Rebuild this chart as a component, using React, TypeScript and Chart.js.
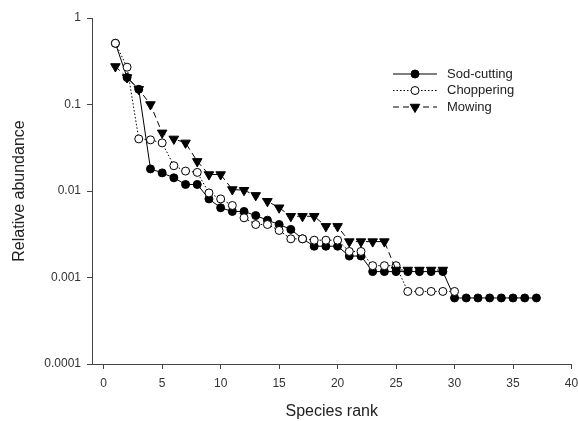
import React, { useEffect, useRef } from 'react';
import { Chart, registerables } from 'chart.js';
import { drawPoint } from 'chart.js/helpers';

Chart.register(...registerables);

const sodRanks = [1, 2, 3, 4, 5, 6, 7, 8, 9, 10, 11, 12, 13, 14, 15, 16, 17, 18, 19, 20, 21, 22, 23, 24, 25, 26, 27, 28, 29, 30, 31, 32, 33, 34, 35, 36, 37];
const sodValues = [0.51, 0.205, 0.15, 0.018, 0.0162, 0.0142, 0.0119, 0.0119, 0.0081, 0.0064, 0.0058, 0.0058, 0.0052, 0.0046, 0.0041, 0.0036, 0.0028, 0.0023, 0.0023, 0.0023, 0.00177, 0.00177, 0.00117, 0.00117, 0.00117, 0.00117, 0.00117, 0.00117, 0.00117, 0.00058, 0.00058, 0.00058, 0.00058, 0.00058, 0.00058, 0.00058, 0.00058];

const chopRanks = [1, 2, 3, 4, 5, 6, 7, 8, 9, 10, 11, 12, 13, 14, 15, 16, 17, 18, 19, 20, 21, 22, 23, 24, 25, 26, 27, 28, 29, 30];
const chopValues = [0.51, 0.27, 0.04, 0.039, 0.036, 0.0196, 0.017, 0.0164, 0.0095, 0.0081, 0.0068, 0.0049, 0.0041, 0.0041, 0.0035, 0.0028, 0.0028, 0.0027, 0.0027, 0.0027, 0.002, 0.002, 0.00137, 0.00137, 0.00137, 0.00069, 0.00069, 0.00069, 0.00069, 0.00069];

const mowRanks = [1, 2, 3, 4, 5, 6, 7, 8, 9, 10, 11, 12, 13, 14, 15, 16, 17, 18, 19, 20, 21, 22, 23, 24, 25, 26, 27, 28, 29];
const mowValues = [0.275, 0.205, 0.15, 0.1, 0.047, 0.04, 0.036, 0.022, 0.0155, 0.0155, 0.0104, 0.0102, 0.0089, 0.0076, 0.0064, 0.0051, 0.0051, 0.0051, 0.0039, 0.0039, 0.0026, 0.0026, 0.0026, 0.0026, 0.00122, 0.00122, 0.00122, 0.00122, 0.00122];

const xTicks = [0, 5, 10, 15, 20, 25, 30, 35, 40];
const yTicks = [0.0001, 0.001, 0.01, 0.1, 1];
const yTickLabels = ['0.0001', '0.001', '0.01', '0.1', '1'];

const seriesNames = ['Sod-cutting', 'Choppering', 'Mowing'];

const FONT = "'Liberation Sans', Arial, sans-serif";

const toPoints = (xs: number[], ys: number[]) => xs.map((x, i) => ({ x, y: ys[i] }));

const legendPlugin = {
  id: 'customLegend',
  afterDraw(chart: any) {
    const ctx = chart.ctx;
    const x0 = 393;
    const x1 = 437;
    const xm = 415;
    const tx = 447;
    const rows = [74, 90.5, 107];
    ctx.save();
    chart.data.datasets.forEach((ds: any, i: number) => {
      const y = rows[i];
      ctx.beginPath();
      ctx.setLineDash(ds.borderDash || []);
      ctx.lineWidth = ds.borderWidth;
      ctx.strokeStyle = ds.borderColor;
      ctx.moveTo(x0, y);
      ctx.lineTo(x1, y);
      ctx.stroke();
      ctx.setLineDash([]);
      ctx.fillStyle = ds.pointBackgroundColor;
      ctx.strokeStyle = ds.pointBorderColor;
      ctx.lineWidth = ds.pointBorderWidth;
      drawPoint(ctx, {
        pointStyle: ds.pointStyle,
        rotation: ds.pointRotation || 0,
        radius: ds.pointRadius,
        borderWidth: ds.pointBorderWidth,
      }, xm, y);
      ctx.fillStyle = '#222';
      ctx.font = `13px ${FONT}`;
      ctx.textAlign = 'left';
      ctx.textBaseline = 'middle';
      ctx.fillText(ds.label, tx, y);
    });
    ctx.restore();
  },
};

export default function App() {
  const ref = useRef<HTMLCanvasElement | null>(null);

  useEffect(() => {
    if (!ref.current) return;
    const chart = new Chart(ref.current, {
      type: 'line',
      data: {
        datasets: [
          {
            label: seriesNames[0],
            data: toPoints(sodRanks, sodValues),
            borderColor: '#000',
            borderWidth: 1,
            pointStyle: 'circle',
            pointRadius: 4,
            pointBackgroundColor: '#000',
            pointBorderColor: '#000',
            pointBorderWidth: 1,
            order: 3,
          } as any,
          {
            label: seriesNames[1],
            data: toPoints(chopRanks, chopValues),
            borderColor: '#000',
            borderWidth: 1,
            borderDash: [1.5, 2],
            pointStyle: 'circle',
            pointRadius: 4,
            pointBackgroundColor: '#fff',
            pointBorderColor: '#000',
            pointBorderWidth: 1,
            order: 2,
          },
          {
            label: seriesNames[2],
            data: toPoints(mowRanks, mowValues),
            borderColor: '#000',
            borderWidth: 1,
            borderDash: [6, 4],
            pointStyle: 'triangle',
            pointRotation: 180,
            pointRadius: 5.5,
            pointBackgroundColor: '#000',
            pointBorderColor: '#000',
            pointBorderWidth: 1,
            order: 1,
          },
        ],
      },
      options: {
        animation: false,
        responsive: false,
        layout: { padding: { top: 18, right: 4, left: 0, bottom: 0 } },
        plugins: {
          legend: { display: false },
          tooltip: { enabled: false },
        },
        scales: {
          x: {
            type: 'linear',
            min: -1,
            max: 40,
            afterBuildTicks: (s: any) => {
              s.ticks = xTicks.map((v) => ({ value: v }));
            },
            afterFit: (s: any) => {
              s.height = 57;
              s.paddingRight = 0;
              s.paddingLeft = 0;
            },
            grid: { drawOnChartArea: false, drawTicks: true, tickLength: 5, color: '#444' },
            border: { display: true, color: '#444', width: 1 },
            ticks: {
              font: { family: FONT, size: 12 },
              color: '#333',
              padding: 7,
              maxRotation: 0,
              autoSkip: false,
            },
            title: {
              display: true,
              text: 'Species rank',
              font: { family: FONT, size: 16 },
              color: '#222',
              padding: { top: 0, bottom: 0 },
            },
          },
          y: {
            type: 'logarithmic',
            min: 0.0001,
            max: 1,
            afterBuildTicks: (s: any) => {
              s.ticks = yTicks.map((v) => ({ value: v }));
            },
            afterFit: (s: any) => {
              s.width = 92;
              s.paddingTop = 0;
              s.paddingBottom = 0;
            },
            grid: { drawOnChartArea: false, drawTicks: true, tickLength: 5, color: '#444' },
            border: { display: true, color: '#444', width: 1 },
            ticks: {
              font: { family: FONT, size: 12 },
              color: '#333',
              padding: 6,
              autoSkip: false,
              callback: (v: any) => {
                const idx = yTicks.findIndex((t) => Math.abs(t - Number(v)) < t * 1e-6);
                return idx >= 0 ? yTickLabels[idx] : '';
              },
            },
            title: {
              display: true,
              text: 'Relative abundance',
              font: { family: FONT, size: 16 },
              color: '#222',
              padding: { top: 10, bottom: 0 },
            },
          },
        },
      },
      plugins: [legendPlugin],
    });
    return () => chart.destroy();
  }, []);

  return (
    <div style={{ position: 'absolute', left: 0, top: 0, width: 578, height: 421, background: '#fff' }}>
      <canvas ref={ref} width={578} height={421} />
    </div>
  );
}
